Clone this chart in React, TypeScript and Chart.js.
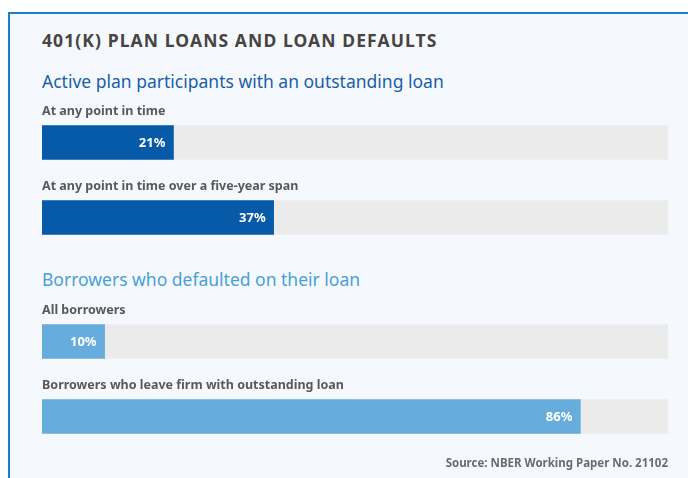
import React, { useEffect, useRef } from "react";
import { Chart, registerables } from "chart.js";

Chart.register(...registerables);

const TITLE = "401(K) PLAN LOANS AND LOAN DEFAULTS";
const SOURCE = "Source: NBER Working Paper No. 21102";

const section1Heading = "Active plan participants with an outstanding loan";
const section1Labels = ["At any point in time", "At any point in time over a five-year span"];
const section1Values = [21, 37];

const section2Heading = "Borrowers who defaulted on their loan";
const section2Labels = ["All borrowers", "Borrowers who leave firm with outstanding loan"];
const section2Values = [10, 86];

const trackValue = 100;

const FONT = "'Noto Sans', sans-serif";

const labelPlugin = {
  id: "barLabels",
  afterDatasetsDraw(chart: any) {
    const ctx = chart.ctx;
    const meta = chart.getDatasetMeta(0);
    const labels = chart.data.labels as string[];
    const values = chart.data.datasets[0].data as number[];
    ctx.save();
    meta.data.forEach((bar: any, i: number) => {
      const half = bar.height / 2;
      ctx.font = `bold 12.5px ${FONT}`;
      ctx.fillStyle = "#595959";
      ctx.textAlign = "left";
      ctx.textBaseline = "middle";
      ctx.fillText(labels[i], chart.chartArea.left, bar.y - half - 14);
      ctx.font = `bold 13px ${FONT}`;
      ctx.fillStyle = "#ffffff";
      ctx.textAlign = "right";
      ctx.fillText(values[i] + "%", bar.x - 8, bar.y + 0.5);
    });
    ctx.restore();
  },
};

function BarSection({ labels, values, color, top }: { labels: string[]; values: number[]; color: string; top: number }) {
  const ref = useRef<HTMLCanvasElement>(null);
  useEffect(() => {
    if (!ref.current) return;
    const chart = new Chart(ref.current, {
      type: "bar",
      data: {
        labels,
        datasets: [
          {
            data: values,
            backgroundColor: color,
            barThickness: 34,
            grouped: false,
            order: 0,
          },
          {
            data: labels.map(() => trackValue),
            backgroundColor: "#ebebeb",
            barThickness: 34,
            grouped: false,
            order: 1,
          },
        ],
      },
      options: {
        indexAxis: "y",
        animation: false,
        responsive: false,
        maintainAspectRatio: false,
        layout: { padding: { left: 42, right: 20, top: 10, bottom: 10 } },
        scales: {
          x: { display: false, min: 0, max: 100 },
          y: { display: false },
        },
        plugins: { legend: { display: false }, tooltip: { enabled: false } },
      },
      plugins: [labelPlugin],
    });
    return () => chart.destroy();
  }, []);
  return (
    <canvas
      ref={ref}
      width={688}
      height={170}
      style={{ position: "absolute", left: 0, top, width: 688, height: 170 }}
    />
  );
}

export default function App() {
  return (
    <div style={{ position: "fixed", left: 0, top: 0, width: 688, height: 478, overflow: "hidden", background: "#ffffff", fontFamily: FONT }}>
      <div
        style={{
          position: "absolute",
          left: 8,
          top: 12,
          width: 720,
          height: 520,
          background: "#f5f9fd",
          borderTop: "2px solid #1b7fcf",
          borderLeft: "2px solid #1b7fcf",
        }}
      />
      <div style={{ position: "absolute", left: 42, top: 29, fontSize: 17.5, lineHeight: "22px", fontWeight: 700, color: "#474443", letterSpacing: 1.1, whiteSpace: "nowrap" }}>
        {TITLE}
      </div>
      <div style={{ position: "absolute", left: 42, top: 70, fontSize: 17.5, lineHeight: "22px", color: "#1a5ea8", whiteSpace: "nowrap" }}>
        {section1Heading}
      </div>
      <div style={{ position: "absolute", left: 42, top: 268, fontSize: 17.5, lineHeight: "22px", color: "#48a0d8", whiteSpace: "nowrap" }}>
        {section2Heading}
      </div>
      <BarSection labels={section1Labels} values={section1Values} color="#075aa8" top={95} />
      <BarSection labels={section2Labels} values={section2Values} color="#66acdc" top={294} />
      <div style={{ position: "absolute", right: 20, top: 455, fontSize: 11.5, lineHeight: "16px", fontWeight: 700, color: "#6b6b6b", whiteSpace: "nowrap" }}>
        {SOURCE}
      </div>
    </div>
  );
}
